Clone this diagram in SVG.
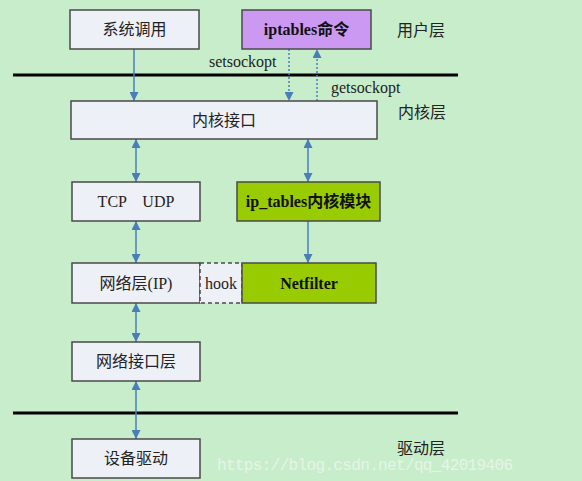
<svg xmlns="http://www.w3.org/2000/svg" width="582" height="481" viewBox="0 0 582 481">
<style>
.box{fill:#eef0f8;stroke:#4a4a4a;stroke-width:1.5}
.t{font-family:"Liberation Serif","Noto Sans CJK SC",serif;font-size:16px;fill:#222;text-anchor:middle;dominant-baseline:central}
.b{font-weight:bold;fill:#111}
.lbl{font-family:"Liberation Serif","Noto Sans CJK SC",serif;font-size:16px;fill:#222}
.a{stroke:#4a7ebb;stroke-width:1.5;fill:none}
.d{stroke:#4a7ebb;stroke-width:1.5;fill:none;stroke-dasharray:2 2}
.sep{stroke:#000;stroke-width:3}
</style>
<defs>
<marker id="ah" viewBox="0 0 10 10" refX="10" refY="5" markerWidth="9" markerHeight="9" markerUnits="userSpaceOnUse" orient="auto-start-reverse">
<path d="M0,0 L10,5 L0,10 z" fill="#4a7ebb"/>
</marker>
</defs>
<rect x="0" y="0" width="582" height="481" fill="#c8edcb"/>
<line class="sep" x1="13" y1="75" x2="458" y2="75"/>
<line class="sep" x1="13" y1="413" x2="458" y2="413"/>
<g id="layers">
<text class="lbl" x="421" y="30" text-anchor="middle" dominant-baseline="central">用户层</text>
<text class="lbl" x="422" y="112" text-anchor="middle" dominant-baseline="central">内核层</text>
<text class="lbl" x="421" y="448" text-anchor="middle" dominant-baseline="central">驱动层</text>
</g>
<g id="connectors">
<line class="a" x1="134" y1="49" x2="134" y2="101" marker-end="url(#ah)"/>
<line class="d" x1="289" y1="49" x2="289" y2="101" marker-end="url(#ah)"/>
<line class="d" x1="317" y1="101" x2="317" y2="49" marker-end="url(#ah)"/>
<line class="a" x1="136" y1="139" x2="136" y2="182" marker-start="url(#ah)" marker-end="url(#ah)"/>
<line class="a" x1="308" y1="139" x2="308" y2="182" marker-start="url(#ah)" marker-end="url(#ah)"/>
<line class="a" x1="136" y1="221" x2="136" y2="263" marker-start="url(#ah)" marker-end="url(#ah)"/>
<line class="a" x1="308" y1="221" x2="308" y2="263" marker-end="url(#ah)"/>
<line class="a" x1="136" y1="303" x2="136" y2="342" marker-start="url(#ah)" marker-end="url(#ah)"/>
<line class="a" x1="136" y1="381" x2="136" y2="439" marker-start="url(#ah)" marker-end="url(#ah)"/>
<text class="lbl" x="209" y="67">setsockopt</text>
<text class="lbl" x="331" y="93">getsockopt</text>
</g>
<g id="syscall"><rect class="box" x="70" y="10" width="129" height="39"/><text class="t" x="134.5" y="29.5">系统调用</text></g>
<g id="iptables"><rect class="box" x="242" y="10" width="129" height="39" style="fill:#cc99f2"/><text class="t b" x="306.5" y="29.5">iptables命令</text></g>
<g id="kernel-if"><rect class="box" x="71" y="101" width="306" height="38"/><text class="t" x="224" y="120">内核接口</text></g>
<g id="tcpudp"><rect class="box" x="72" y="182" width="128" height="39"/><text class="t" x="136" y="201.5" xml:space="preserve">TCP    UDP</text></g>
<g id="iptables-mod"><rect class="box" x="237" y="182" width="143" height="39" style="fill:#99cc00"/><text class="t b" x="308.5" y="201.5">ip_tables内核模块</text></g>
<g id="netlayer"><rect class="box" x="72" y="263" width="128" height="40"/><text class="t" x="136" y="283">网络层(IP)</text></g>
<g id="hook"><rect class="box" x="200" y="263" width="42" height="40" style="stroke-dasharray:4 3"/><text class="t" x="221" y="283">hook</text></g>
<g id="netfilter"><rect class="box" x="242" y="263" width="134" height="40" style="fill:#99cc00"/><text class="t b" x="309" y="283">Netfilter</text></g>
<g id="netif"><rect class="box" x="72" y="342" width="128" height="39"/><text class="t" x="136" y="361.5">网络接口层</text></g>
<g id="driver"><rect class="box" x="72" y="439" width="128" height="39"/><text class="t" x="136" y="458.5">设备驱动</text></g>
<text x="217" y="470" font-family="Liberation Mono, monospace" font-size="16" fill="#e6f4e8" textLength="296">https://blog.csdn.net/qq_42019406</text>
</svg>
